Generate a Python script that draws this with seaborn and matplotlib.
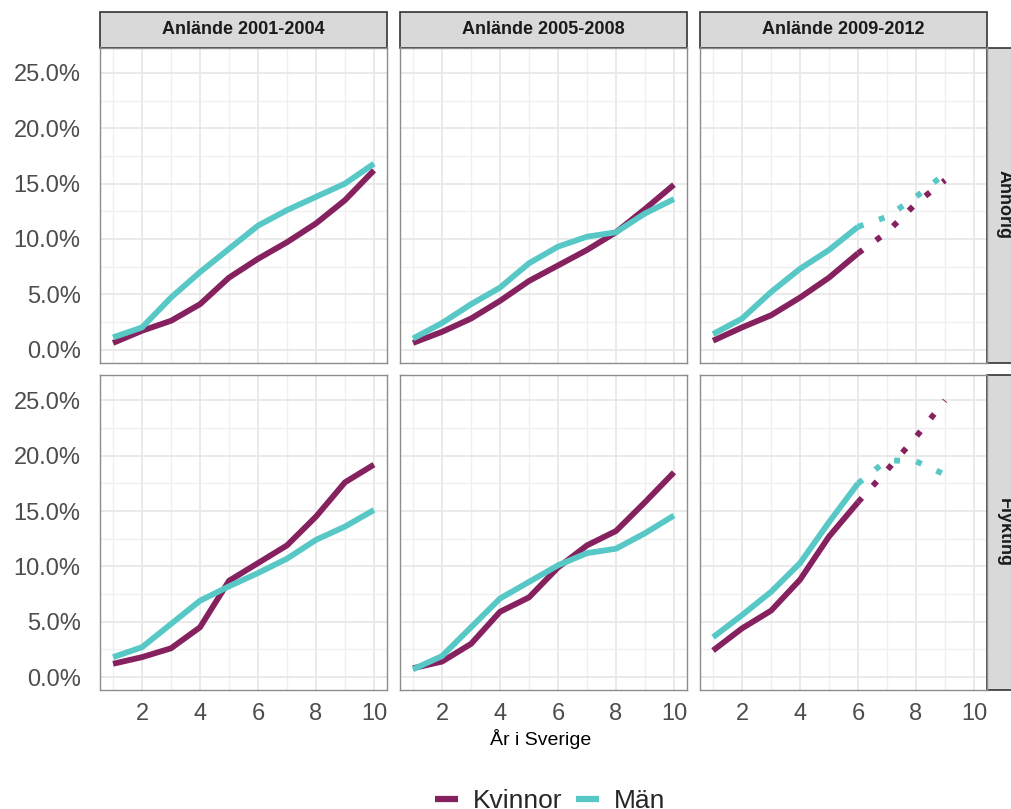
import matplotlib
matplotlib.use("Agg")
import matplotlib.pyplot as plt
import numpy as np
import pandas as pd
import seaborn as sns
from matplotlib.lines import Line2D
from matplotlib.patches import Rectangle
from matplotlib.ticker import FuncFormatter, MultipleLocator

YEARS = list(range(1, 11))
PROG_YEARS = [6, 7, 8, 9]

# andel (%) per år i Sverige
ANH_0104_K = [0.6, 1.7, 2.6, 4.1, 6.5, 8.2, 9.7, 11.4, 13.5, 16.2]
ANH_0104_M = [1.1, 2.0, 4.7, 7.0, 9.1, 11.2, 12.6, 13.8, 15.0, 16.8]
ANH_0508_K = [0.6, 1.6, 2.8, 4.4, 6.2, 7.6, 9.0, 10.6, 12.7, 14.9]
ANH_0508_M = [1.0, 2.4, 4.1, 5.6, 7.8, 9.3, 10.2, 10.6, 12.3, 13.6]
ANH_0912_K = [0.8, 2.0, 3.1, 4.7, 6.5, 8.7]
ANH_0912_M = [1.4, 2.8, 5.2, 7.3, 9.0, 11.1]
ANH_0912_K_PROG = [8.7, 10.6, 13.2, 15.3]
ANH_0912_M_PROG = [11.1, 12.0, 13.8, 15.9]

FLY_0104_K = [1.2, 1.8, 2.6, 4.5, 8.7, 10.3, 11.9, 14.5, 17.6, 19.2]
FLY_0104_M = [1.8, 2.7, 4.8, 6.9, 8.2, 9.4, 10.7, 12.4, 13.6, 15.1]
FLY_0508_K = [0.8, 1.4, 3.0, 5.9, 7.2, 9.9, 11.9, 13.2, 15.8, 18.5]
FLY_0508_M = [0.7, 1.9, 4.5, 7.1, 8.6, 10.1, 11.2, 11.6, 13.0, 14.6]
FLY_0912_K = [2.4, 4.4, 6.0, 8.8, 12.7, 15.8]
FLY_0912_M = [3.6, 5.6, 7.7, 10.3, 14.0, 17.5]
FLY_0912_K_PROG = [15.8, 18.7, 21.7, 25.0]
FLY_0912_M_PROG = [17.5, 19.6, 19.5, 18.3]

TYPES = ["Anhörig", "Flykting"]
PERIODS = ["Anlände 2001-2004", "Anlände 2005-2008", "Anlände 2009-2012"]
SEXES = ["Kvinnor", "Män"]
COLORS = {"Kvinnor": "#86215f", "Män": "#57c8c6"}

series = [
    ("Anhörig", PERIODS[0], "Kvinnor", "obs", YEARS, ANH_0104_K),
    ("Anhörig", PERIODS[0], "Män", "obs", YEARS, ANH_0104_M),
    ("Anhörig", PERIODS[1], "Kvinnor", "obs", YEARS, ANH_0508_K),
    ("Anhörig", PERIODS[1], "Män", "obs", YEARS, ANH_0508_M),
    ("Anhörig", PERIODS[2], "Kvinnor", "obs", YEARS[:6], ANH_0912_K),
    ("Anhörig", PERIODS[2], "Män", "obs", YEARS[:6], ANH_0912_M),
    ("Anhörig", PERIODS[2], "Kvinnor", "prog", PROG_YEARS, ANH_0912_K_PROG),
    ("Anhörig", PERIODS[2], "Män", "prog", PROG_YEARS, ANH_0912_M_PROG),
    ("Flykting", PERIODS[0], "Kvinnor", "obs", YEARS, FLY_0104_K),
    ("Flykting", PERIODS[0], "Män", "obs", YEARS, FLY_0104_M),
    ("Flykting", PERIODS[1], "Kvinnor", "obs", YEARS, FLY_0508_K),
    ("Flykting", PERIODS[1], "Män", "obs", YEARS, FLY_0508_M),
    ("Flykting", PERIODS[2], "Kvinnor", "obs", YEARS[:6], FLY_0912_K),
    ("Flykting", PERIODS[2], "Män", "obs", YEARS[:6], FLY_0912_M),
    ("Flykting", PERIODS[2], "Kvinnor", "prog", PROG_YEARS, FLY_0912_K_PROG),
    ("Flykting", PERIODS[2], "Män", "prog", PROG_YEARS, FLY_0912_M_PROG),
]
rows = []
for typ, per, kon, part, xs, ys in series:
    for x, y in zip(xs, ys):
        rows.append({"typ": typ, "period": per, "kon": kon, "del": part, "ar": x, "andel": y})
df = pd.DataFrame(rows)

sns.set_theme(style="white")
plt.rcParams["font.family"] = ["Liberation Sans", "DejaVu Sans"]
plt.rcParams["lines.solid_capstyle"] = "butt"
plt.rcParams["lines.dash_capstyle"] = "butt"

W, H = 1012, 809
fig = plt.figure(figsize=(W / 100, H / 100), dpi=100)

lefts = [100, 400, 700]
tops = [47.5, 375]
pw, ph = 287, 315
strip = 35

for r, typ in enumerate(TYPES):
    for c, per in enumerate(PERIODS):
        ax = fig.add_axes([lefts[c] / W, 1 - (tops[r] + ph) / H, pw / W, ph / H])
        sub = df[(df["typ"] == typ) & (df["period"] == per)]
        sns.lineplot(sub, x="ar", y="andel", hue="kon", hue_order=SEXES, palette=COLORS,
                     style="del", style_order=["obs", "prog"],
                     dashes={"obs": "", "prog": (1, 2.8)}, lw=4.2,
                     estimator=None, sort=True, legend=False, ax=ax)
        ax.set_xlim(0.55, 10.45)
        ax.set_ylim(-1.17, 27.3)
        ax.xaxis.set_major_locator(MultipleLocator(2))
        ax.xaxis.set_minor_locator(MultipleLocator(1))
        ax.yaxis.set_major_locator(MultipleLocator(5))
        ax.yaxis.set_minor_locator(MultipleLocator(2.5))
        ax.grid(which="major", color="#e8e8e8", lw=1.3, zorder=0)
        ax.grid(which="minor", color="#efefef", lw=0.9, zorder=0)
        ax.set_axisbelow(True)
        for s in ax.spines.values():
            s.set_color("#8c8c8c")
            s.set_linewidth(1.0)
        ax.set_xlabel("")
        ax.set_ylabel("")
        ax.tick_params(which="minor", length=0)
        ax.tick_params(axis="both", which="major", length=4, width=1, color="#8c8c8c",
                       labelsize=17, labelcolor="#4d4d4d")
        ax.tick_params(axis="y", pad=10)
        ax.tick_params(axis="x", pad=5)
        ax.yaxis.set_major_formatter(FuncFormatter(lambda v, p: f"{v:.1f}%"))
        if c > 0:
            ax.tick_params(axis="y", length=0, labelleft=False)
        if r == 0:
            ax.tick_params(axis="x", length=0, labelbottom=False)
            ax.add_patch(Rectangle((0, 1), 1, strip / ph, transform=ax.transAxes,
                                   clip_on=False, fc="#d9d9d9", ec="#333333", lw=1.2))
            ax.text(0.5, 1 + strip / ph / 2, per, transform=ax.transAxes, ha="center",
                    va="center", fontsize=13, fontweight="bold", color="#1a1a1a")
        if c == 2:
            ax.add_patch(Rectangle((1, 0), strip / pw, 1, transform=ax.transAxes,
                                   clip_on=False, fc="#d9d9d9", ec="#333333", lw=1.2))
            ax.text(1 + strip / pw / 2, 0.5, typ, transform=ax.transAxes, ha="center",
                    va="center", rotation=-90, fontsize=13, fontweight="bold",
                    color="#1a1a1a")

fig.text(541 / W, 1 - 739 / H, "År i Sverige", ha="center", va="center", fontsize=14,
         color="black")

handles = [Line2D([], [], color=COLORS[k], lw=4.5) for k in SEXES]
fig.legend(handles, SEXES, loc="center", bbox_to_anchor=(550 / W, 1 - 801 / H), ncol=2,
           frameon=False, fontsize=19, handlelength=0.9, handletextpad=0.55,
           columnspacing=0.5)

fig.savefig("out.png", dpi=100)
